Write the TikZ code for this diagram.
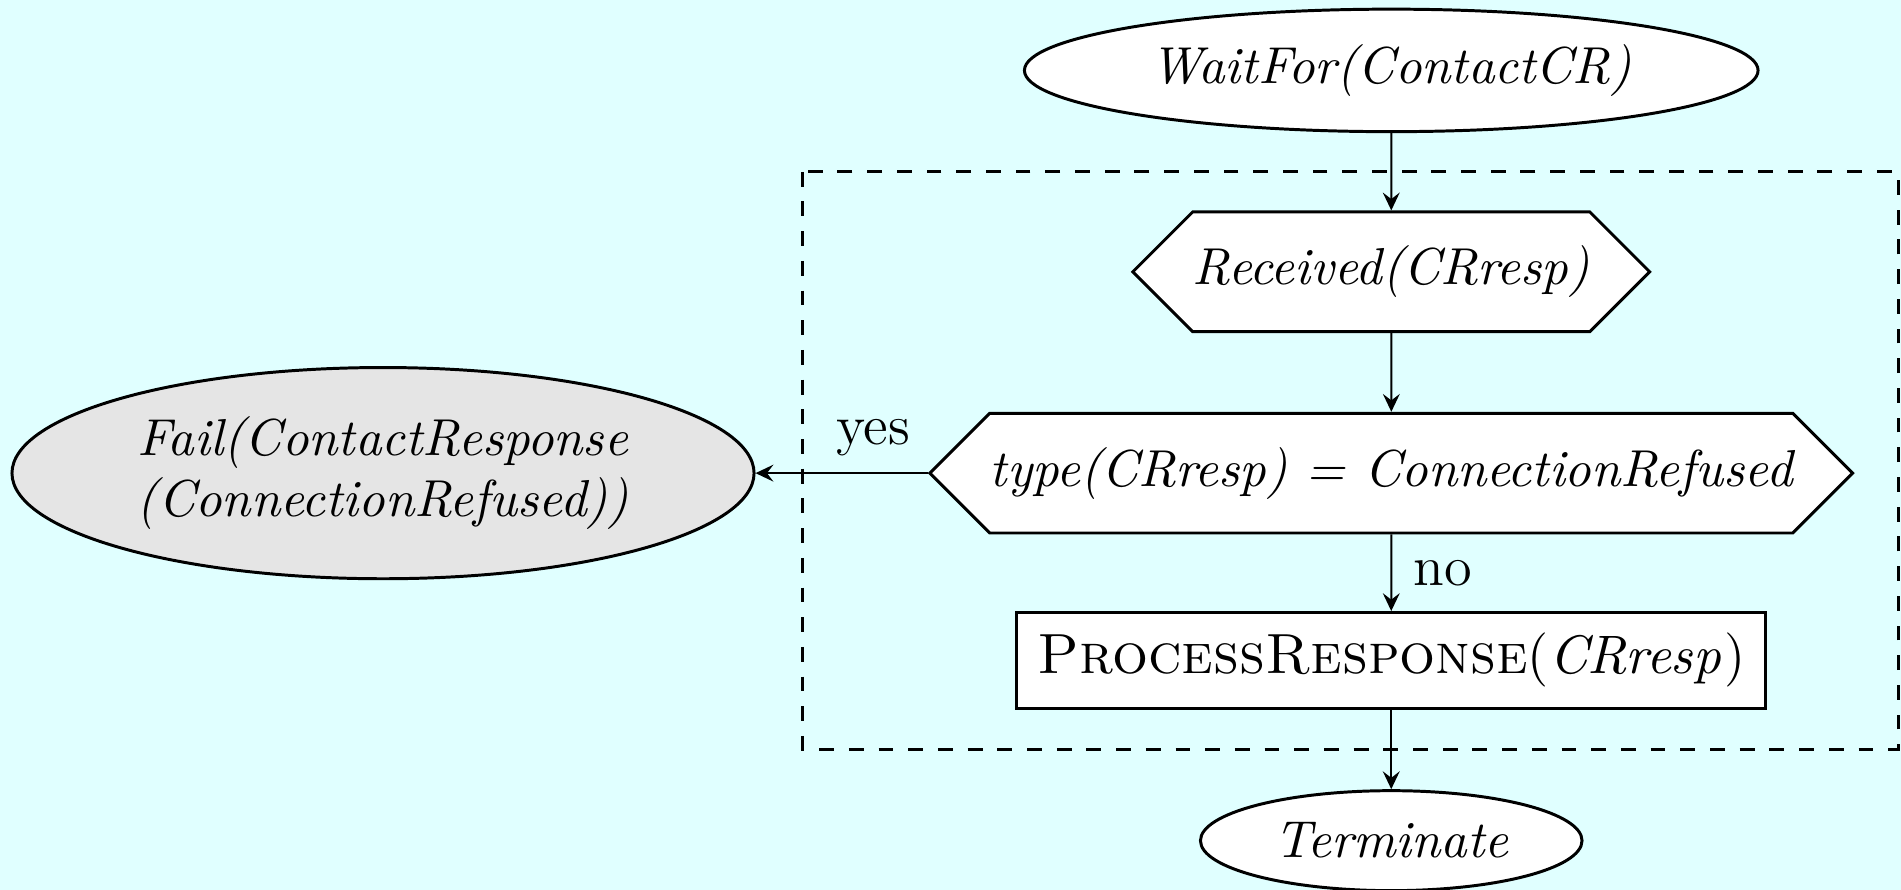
\documentclass[tikz,border=0pt]{standalone}
\usepackage{amsmath}
\usepackage{tikz}
\usetikzlibrary{shapes}
\usetikzlibrary{arrows.meta}

\definecolor{bgcyan}{RGB}{224,255,255}

\begin{document}
\begin{tikzpicture}[
    >={Stealth[length=3.6pt, width=3.4pt, inset=1.3pt]},
    state/.style={ellipse, draw, semithick, fill=white, inner sep=0pt, font=\fontsize{10.5}{12.2}\selectfont\itshape},
    test/.style={signal, signal to=east and west, signal pointer angle=90, draw, semithick, fill=white, inner sep=0pt, font=\fontsize{10.5}{12.2}\selectfont\itshape},
    action/.style={rectangle, draw, semithick, fill=white, inner sep=0pt, font=\fontsize{11.45}{13.7}\selectfont},
    answer/.style={font=\fontsize{11.4}{13.7}\selectfont}
]
    \fill[bgcyan] (0, 0) rectangle (13.5, -6.32);
    \useasboundingbox (0, 0) rectangle (13.5, -6.32);
    \draw[dashed, semithick] (5.70, -1.22) rectangle (13.48, -5.32);

    \node[state, minimum width=5.21cm, minimum height=0.87cm] (wait) at (9.88, -0.50) {WaitFor(ContactCR)};
    \node[test, minimum width=3.67cm, minimum height=0.85cm] (recv) at (9.88, -1.93) {Received(CRresp)};
    \node[test, minimum width=6.53cm, minimum height=0.85cm] (check) at (9.88, -3.36) {type(CRresp) = ConnectionRefused};
    \node[action, minimum width=5.32cm, minimum height=0.68cm] (proc) at (9.88, -4.69) {\textsc{ProcessResponse}$(\mathit{CRresp})$};
    \node[state, minimum width=2.71cm, minimum height=0.71cm] (term) at (9.88, -5.97) {Terminate};
    \node[state, fill=black!10, align=center, minimum width=5.27cm, minimum height=1.50cm] (fail) at (2.72, -3.36) {Fail(ContactResponse\\(ConnectionRefused))};

    \draw[->] (wait) -- (recv);
    \draw[->] (recv) -- (check);
    \draw[->] (check) -- node[answer, right, xshift=1pt] {no} (proc);
    \draw[->] (proc) -- (term);
    \draw[->] (check.west) -- (fail.east);
    \node[answer] (yes) at (6.20, -3.11) {yes};
\end{tikzpicture}
\end{document}
